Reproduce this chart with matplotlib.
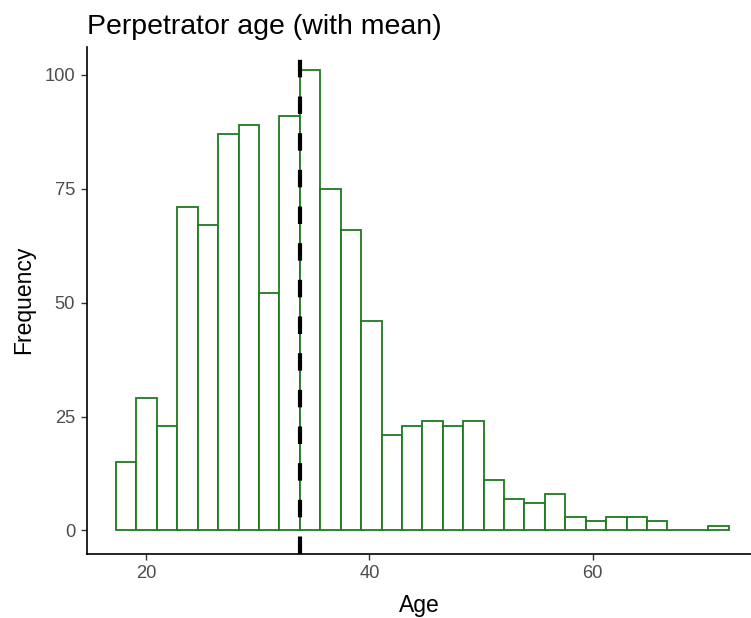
import numpy as np
import matplotlib
matplotlib.use('Agg')
import matplotlib.pyplot as plt

plt.rcParams['font.family'] = ['Liberation Sans', 'DejaVu Sans']

# counts per age bin (30 bins)
counts = [15, 29, 23, 71, 67, 87, 89, 52, 91, 101,
          75, 66, 46, 21, 23, 24, 23, 24, 11, 7,
          6, 8, 3, 2, 3, 3, 2, 0, 0, 1]
age_min, age_max = 17.3, 72.2
mean_age = 33.8
yticks = [0, 25, 50, 75, 100]
xticks = [20, 40, 60]

edges = np.linspace(age_min, age_max, len(counts) + 1)
bw = edges[1] - edges[0]

fig = plt.figure(figsize=(7.51, 6.18), dpi=100)
ax = fig.add_axes([87 / 751, 64.5 / 618, (751 - 87) / 751, 506.5 / 618])

ax.bar(edges[:-1], counts, width=bw, align='edge', color='white',
       edgecolor='#1f7a1f', linewidth=1.3, zorder=2)
ax.axvline(mean_age, color='black', linewidth=3, linestyle=(0, (4.2, 4.6)), zorder=3)

ax.set_xlim(14.7, 74.2)
ax.set_ylim(-5.05, 106.05)
ax.set_xticks(xticks)
ax.set_yticks(yticks)

for side in ['top', 'right']:
    ax.spines[side].set_visible(False)
for side in ['left', 'bottom']:
    ax.spines[side].set_linewidth(1.2)
    ax.spines[side].set_color('black')

ax.tick_params(axis='both', length=4.1, width=1.0, color='#333333',
               labelsize=13.2, labelcolor='#4d4d4d', pad=4.5)

ax.set_xlabel('Age', fontsize=16.5, labelpad=8)
ax.set_ylabel('Frequency', fontsize=16.5, labelpad=7)
ax.set_title('Perpetrator age (with mean)', fontsize=20.5, loc='left',
             x=0.0, pad=9)

plt.savefig('out.png', dpi=100)
